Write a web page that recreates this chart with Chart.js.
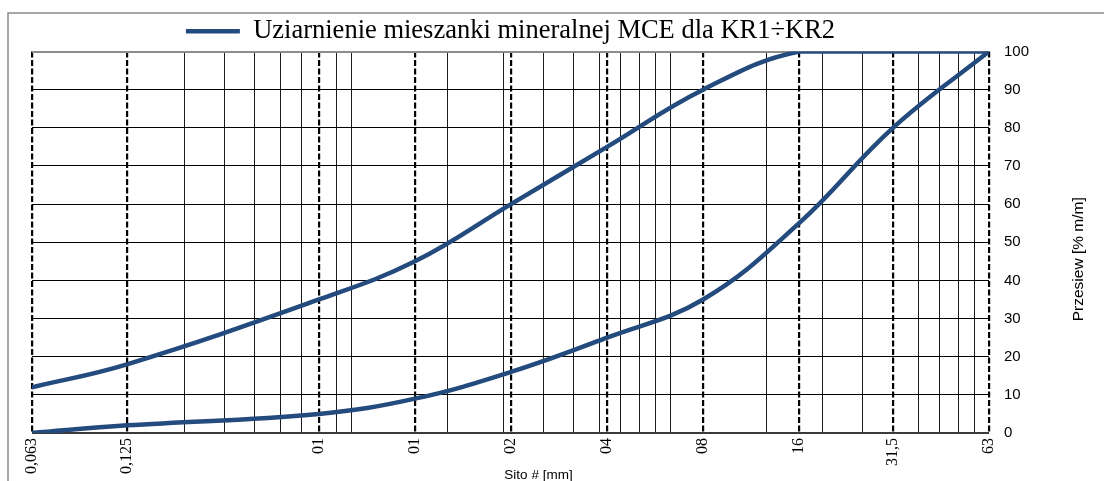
<!DOCTYPE html>
<html>
<head>
<meta charset="utf-8">
<script src="https://cdn.jsdelivr.net/npm/chart.js@4.4.1/dist/chart.umd.min.js"></script>
<style>
  html, body { margin: 0; padding: 0; background: #fff; overflow: hidden; }
  #wrap { position: relative; width: 1104px; height: 481px; }
</style>
</head>
<body>
<div id="wrap"><canvas id="sieveChart"></canvas></div>
<script>
// sieve sizes [mm] and their printed labels
const sieves = [0.063, 0.125, 0.5, 1, 2, 4, 8, 16, 31.5, 63];
const sieveLabels = ['0,063', '0,125', '01', '01', '02', '04', '08', '16', '31,5', '63'];

// grading envelope, % passing
const upperLimit = [12, 18, 35, 45, 60, 75, 90, 100, 100, 100];
const lowerLimit = [0, 2, 5, 9, 16, 25, 35, 55, 80, 100];

// thin solid vertical lines of the log grid
const minorGrid = [0.189, 0.252, 0.315, 0.378, 0.441, 0.567, 0.63,
  1.26, 1.89, 2.52, 3.15, 3.78, 4.41, 5.04, 5.67, 6.3,
  12.6, 18.9, 25.2, 37.8, 44.1, 50.4, 56.7];

const yTicks = [0, 10, 20, 30, 40, 50, 60, 70, 80, 90, 100];

const lineColor = '#244b7e';

const frameAndTitles = {
  id: 'frameAndTitles',
  beforeLayout(chart) {
    // legend box a bit shorter than chart.js makes it, so the text sits lower
    const lg = chart.legend;
    if (lg && !lg._short) {
      const fit = lg.fit;
      lg.fit = function() { fit.call(this); this.height -= 3; };
      lg._short = true;
    }
  },
  beforeDraw(chart) {
    const ctx = chart.ctx;
    ctx.save();
    ctx.strokeStyle = '#8c8c8c';
    ctx.lineWidth = 1.5;
    ctx.beginPath();
    ctx.moveTo(8, chart.height + 5);
    ctx.lineTo(8, 13);
    ctx.lineTo(chart.width + 5, 13);
    ctx.stroke();
    ctx.restore();
  },
  afterDraw(chart) {
    const ctx = chart.ctx;
    const a = chart.chartArea;
    ctx.save();
    ctx.fillStyle = '#000';
    ctx.font = '13.5px "Liberation Sans", Arial, sans-serif';
    ctx.textAlign = 'center';
    ctx.textBaseline = 'alphabetic';
    ctx.fillText('Sito # [mm]', (a.left + a.right) / 2 + 28, 479);
    ctx.font = '15.5px "Liberation Sans", Arial, sans-serif';
    ctx.translate(1079, (a.top + a.bottom) / 2 + 17);
    ctx.rotate(-Math.PI / 2);
    ctx.textBaseline = 'middle';
    ctx.fillText('Przesiew [% m/m]', 0, 0);
    ctx.restore();
  }
};

const config = {
  type: 'line',
  data: {
    datasets: [{
      label: 'Uziarnienie mieszanki mineralnej MCE dla KR1÷KR2',
      data: sieves.map((s, i) => ({x: s, y: upperLimit[i]})),
      borderColor: lineColor,
      backgroundColor: lineColor,
      borderWidth: 4.5,
      borderCapStyle: 'round',
      pointRadius: 0,
      tension: 0.4
    }, {
      label: '',
      data: sieves.map((s, i) => ({x: s, y: lowerLimit[i]})),
      borderColor: lineColor,
      backgroundColor: lineColor,
      borderWidth: 4.5,
      borderCapStyle: 'round',
      pointRadius: 0,
      tension: 0.4
    }]
  },
  options: {
    responsive: true,
    maintainAspectRatio: false,
    animation: false,
    layout: { padding: { left: 32, right: 0, top: 11, bottom: 2 } },
    plugins: {
      tooltip: { enabled: false },
      legend: {
        position: 'top',
        fullSize: false,
        labels: {
          filter: item => item.datasetIndex === 0,
          usePointStyle: true,
          pointStyle: 'line',
          pointStyleWidth: 54,
          boxHeight: 5,
          padding: 7,
          color: '#000',
          font: { family: '"Liberation Serif", "Times New Roman", serif', size: 26.5 }
        }
      }
    },
    scales: {
      x2: {
        type: 'logarithmic',
        position: 'bottom',
        min: 0.063,
        max: 63,
        bounds: 'data',
        afterBuildTicks: scale => { scale.ticks = minorGrid.map(v => ({value: v})); },
        ticks: { display: false },
        border: { display: false },
        grid: { color: '#1a1a1a', lineWidth: 1, drawTicks: false, z: -2 }
      },
      x: {
        type: 'logarithmic',
        position: 'bottom',
        min: 0.063,
        max: 63,
        bounds: 'data',
        afterBuildTicks: scale => { scale.ticks = sieves.map(v => ({value: v})); },
        ticks: {
          autoSkip: false,
          minRotation: 90,
          maxRotation: 90,
          padding: 5,
          color: '#000',
          font: { family: '"Liberation Serif", "Times New Roman", serif', size: 16 },
          callback: (v, i) => sieveLabels[i]
        },
        // dashed sieve lines (v4 takes the grid dash from border.dash)
        border: { display: false, dash: [6, 2.5] },
        grid: { color: '#000', lineWidth: 2.2, drawTicks: false, z: -1 }
      },
      y: {
        position: 'right',
        min: 0,
        max: 100,
        afterBuildTicks: scale => { scale.ticks = yTicks.map(v => ({value: v})); },
        afterFit: scale => { scale.width = 115; },
        ticks: {
          padding: 15,
          color: '#000',
          font: { family: '"Liberation Sans", Arial, sans-serif', size: 15 }
        },
        border: { display: false },
        grid: {
          drawTicks: false,
          color: ctx => {
            const v = ctx.tick && ctx.tick.value;
            return v === 100 ? '#8c8c8c' : (v === 0 ? '#3a3a3a' : '#000');
          },
          lineWidth: ctx => {
            const v = ctx.tick && ctx.tick.value;
            return v === 100 || v === 0 ? 2 : 1;
          }
        }
      }
    }
  },
  plugins: [frameAndTitles]
};

const sieveChart = new Chart(document.getElementById('sieveChart'), config);
</script>
</body>
</html>
